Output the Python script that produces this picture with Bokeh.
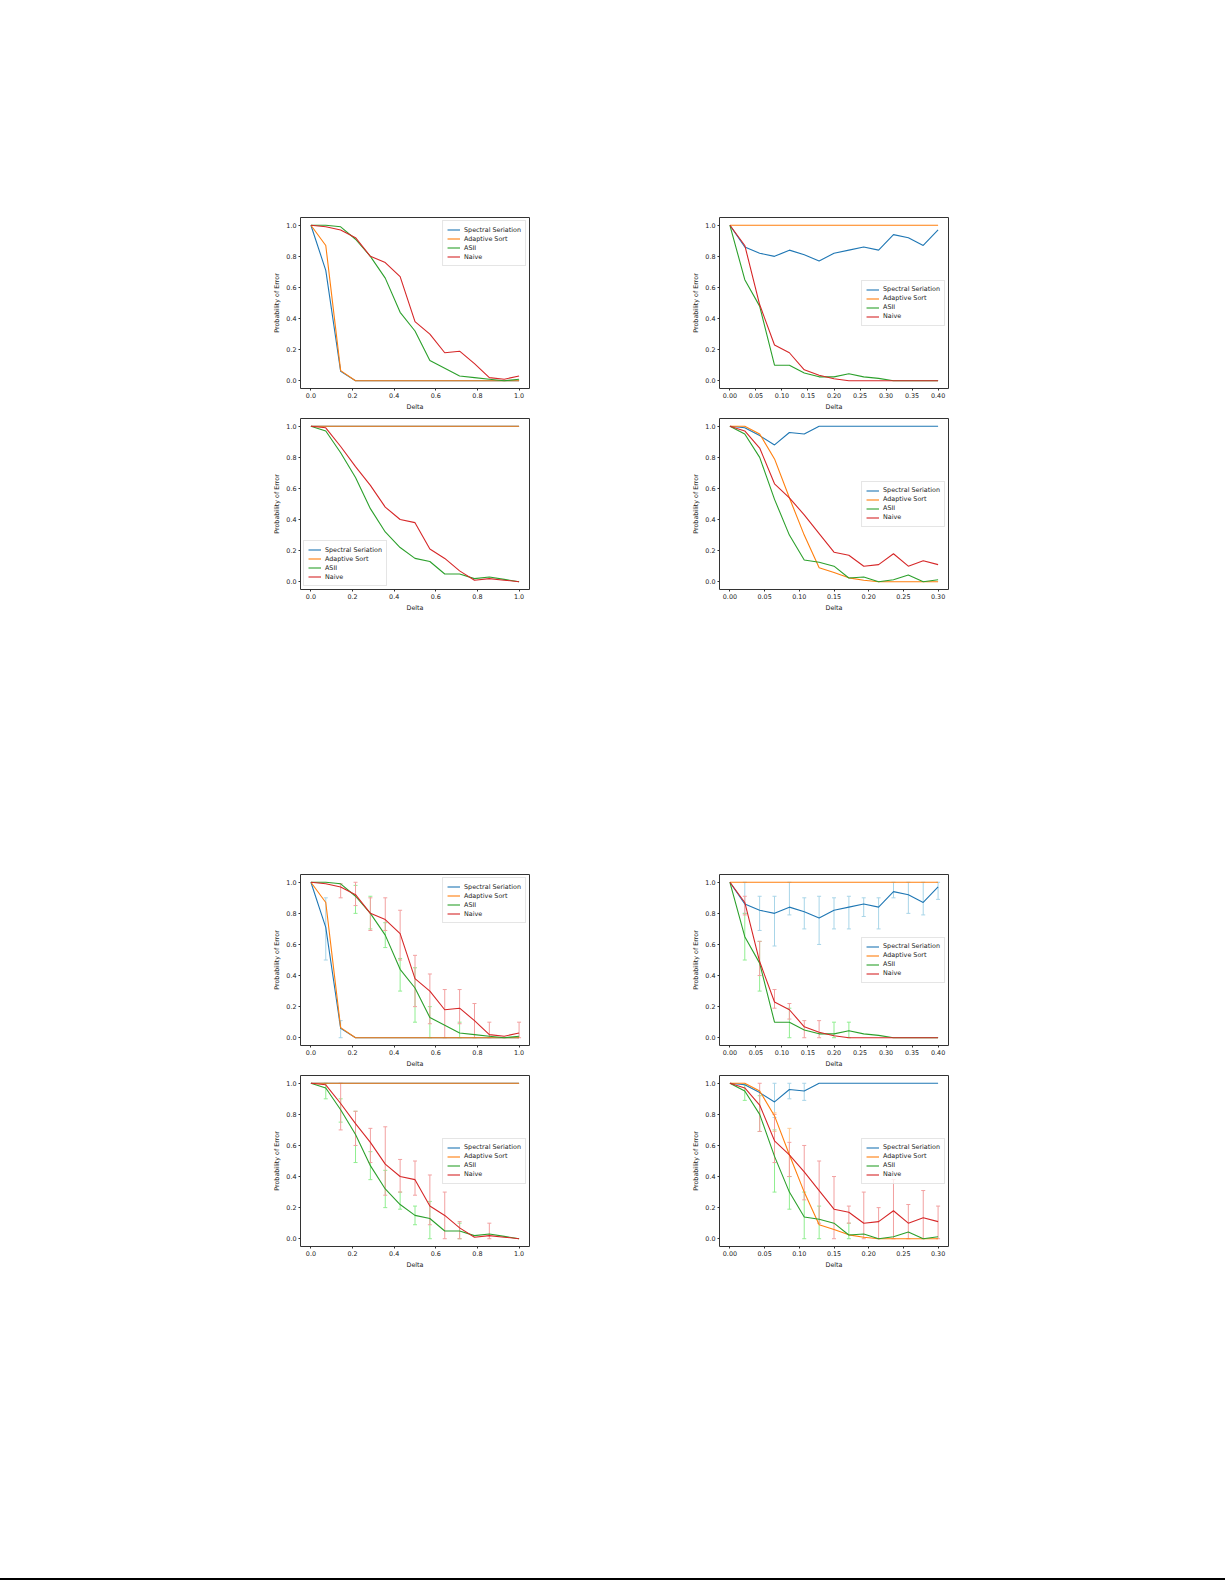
from bokeh.plotting import figure
from bokeh.models import (ColumnDataSource, Range1d, FixedTicker, PrintfTickFormatter,
                          Whisker, TeeHead, Spacer, Div)
from bokeh.layouts import column, row
from bokeh.embed import file_html
from bokeh.resources import INLINE

# x positions (Delta) of the 15 runs in each experiment
delta_a = [0.0, 0.0714, 0.1429, 0.2143, 0.2857, 0.3571, 0.4286, 0.5, 0.5714, 0.6429, 0.7143, 0.7857, 0.8571, 0.9286, 1.0]
delta_b = [0.0, 0.0286, 0.0571, 0.0857, 0.1143, 0.1429, 0.1714, 0.2, 0.2286, 0.2571, 0.2857, 0.3143, 0.3429, 0.3714, 0.4]
delta_d = [0.0, 0.0214, 0.0429, 0.0643, 0.0857, 0.1071, 0.1286, 0.15, 0.1714, 0.1929, 0.2143, 0.2357, 0.2571, 0.2786, 0.3]

names = ["Spectral Seriation", "Adaptive Sort", "ASII", "Naive"]

# experiment 1 (top left)
s1_spectral = [1.0, 0.71, 0.06, 0, 0, 0, 0, 0, 0, 0, 0, 0, 0, 0, 0]
s1_adaptive = [1.0, 0.87, 0.065, 0, 0, 0, 0, 0, 0, 0, 0, 0, 0, 0, 0]
s1_asii = [1.0, 1.0, 0.99, 0.91, 0.80, 0.66, 0.44, 0.32, 0.13, 0.08, 0.03, 0.02, 0.01, 0.0, 0.01]
s1_naive = [1.0, 0.99, 0.97, 0.92, 0.80, 0.76, 0.67, 0.38, 0.30, 0.18, 0.19, 0.11, 0.02, 0.01, 0.03]

# experiment 2 (top right)
s2_spectral = [1.0, 0.86, 0.82, 0.80, 0.84, 0.81, 0.77, 0.82, 0.84, 0.86, 0.84, 0.94, 0.92, 0.87, 0.97]
s2_adaptive = [1.0, 1.0, 1.0, 1.0, 1.0, 1.0, 1.0, 1.0, 1.0, 1.0, 1.0, 1.0, 1.0, 1.0, 1.0]
s2_asii = [1.0, 0.65, 0.48, 0.10, 0.10, 0.05, 0.025, 0.025, 0.045, 0.025, 0.015, 0.0, 0.0, 0.0, 0.0]
s2_naive = [1.0, 0.87, 0.49, 0.23, 0.18, 0.07, 0.035, 0.013, 0.0, 0.0, 0.0, 0.0, 0.0, 0.0, 0.0]

# experiment 3 (bottom left)
s3_spectral = [1.0, 1.0, 1.0, 1.0, 1.0, 1.0, 1.0, 1.0, 1.0, 1.0, 1.0, 1.0, 1.0, 1.0, 1.0]
s3_adaptive = [1.0, 1.0, 1.0, 1.0, 1.0, 1.0, 1.0, 1.0, 1.0, 1.0, 1.0, 1.0, 1.0, 1.0, 1.0]
s3_asii = [1.0, 0.97, 0.83, 0.67, 0.47, 0.32, 0.22, 0.15, 0.13, 0.05, 0.05, 0.02, 0.03, 0.015, 0.0]
s3_naive = [1.0, 0.99, 0.87, 0.74, 0.62, 0.48, 0.40, 0.38, 0.21, 0.15, 0.07, 0.01, 0.02, 0.01, 0.0]

# experiment 4 (bottom right)
s4_spectral = [1.0, 0.99, 0.94, 0.88, 0.96, 0.95, 1.0, 1.0, 1.0, 1.0, 1.0, 1.0, 1.0, 1.0, 1.0]
s4_adaptive = [1.0, 1.0, 0.95, 0.79, 0.54, 0.30, 0.09, 0.06, 0.025, 0.01, 0.0, 0.0, 0.0, 0.0, 0.0]
s4_asii = [1.0, 0.95, 0.80, 0.53, 0.30, 0.14, 0.125, 0.10, 0.024, 0.03, 0.0, 0.013, 0.043, 0.0, 0.013]
s4_naive = [1.0, 0.97, 0.86, 0.63, 0.54, 0.43, 0.31, 0.19, 0.17, 0.10, 0.11, 0.18, 0.10, 0.135, 0.11]

# error bars (lower, upper) for the second copy of the figure; None = no bar
e1_spectral = [None, (0.50, 0.90), (0.0, 0.11), None, None, None, None, None, None, None, None, None, None, None, None]
e1_asii = [None, None, None, (0.80, 0.98), (0.70, 0.91), (0.58, 0.74), (0.30, 0.51), (0.10, 0.45), (0.0, 0.20), None, (0.0, 0.10), None, None, None, None]
e1_naive = [None, None, (0.90, 0.99), (0.85, 1.0), (0.69, 0.90), (0.69, 0.90), (0.50, 0.82), (0.20, 0.53), (0.09, 0.41), (0.0, 0.31), (0.09, 0.31), (0.0, 0.22), (0.0, 0.10), None, (0.0, 0.10)]

e2_spectral = [None, (0.80, 1.0), (0.69, 0.91), (0.59, 0.91), (0.79, 1.0), (0.70, 0.90), (0.60, 0.91), (0.70, 0.90), (0.70, 0.91), (0.78, 0.90), (0.70, 0.90), (0.90, 1.0), (0.80, 1.0), (0.79, 1.0), (0.89, 1.0)]
e2_asii = [None, (0.50, 0.80), (0.30, 0.62), None, (0.0, 0.19), None, None, (0.0, 0.10), (0.0, 0.10), None, None, None, None, None, None]
e2_naive = [None, (0.79, 0.91), (0.40, 0.62), (0.19, 0.31), (0.12, 0.22), (0.0, 0.11), (0.0, 0.11), None, None, None, None, None, None, None, None]

e3_asii = [None, (0.90, 1.0), (0.75, 0.90), (0.49, 0.82), (0.38, 0.56), (0.20, 0.44), (0.19, 0.30), (0.09, 0.21), (0.0, 0.24), None, (0.0, 0.10), None, None, None, None]
e3_naive = [None, None, (0.70, 1.0), (0.60, 0.82), (0.49, 0.71), (0.28, 0.72), (0.30, 0.51), (0.28, 0.50), (0.09, 0.41), (0.0, 0.30), (0.0, 0.11), None, (0.0, 0.10), None, None]

e4_spectral = [None, None, None, (0.78, 1.0), (0.90, 1.0), (0.89, 1.0), None, None, None, None, None, None, None, None, None]
e4_adaptive = [None, None, None, (0.69, 0.81), (0.40, 0.71), None, None, None, None, None, None, None, None, None, None]
e4_asii = [None, (0.89, 0.99), (0.69, 0.92), (0.30, 0.70), (0.19, 0.40), (0.0, 0.30), (0.0, 0.21), None, (0.0, 0.10), None, None, None, None, None, None]
e4_naive = [None, None, (0.69, 1.0), (0.49, 0.80), (0.40, 0.62), (0.25, 0.60), (0.10, 0.50), (0.0, 0.40), (0.10, 0.21), (0.0, 0.30), (0.0, 0.20), (0.0, 0.38), (0.0, 0.22), (0.0, 0.31), (0.0, 0.21)]

ticks_a = [0.0, 0.2, 0.4, 0.6, 0.8, 1.0]
ticks_b = [0.0, 0.05, 0.10, 0.15, 0.20, 0.25, 0.30, 0.35, 0.40]
ticks_d = [0.0, 0.05, 0.10, 0.15, 0.20, 0.25, 0.30]
ticks_y = [0.0, 0.2, 0.4, 0.6, 0.8, 1.0]

FONT = "DejaVu Sans"
FS = "6.4px"
TEXT = "#1a1a1a"
colors = ["#1f77b4", "#ff7f0e", "#2ca02c", "#d62728"]
err_colors = ["#a8d5e8", "#ffcc99", "#90ee90", "#f2a0a0"]


def make_panel(delta, series, errors, x_end, xticks, xfmt, legend_loc):
    p = figure(frame_width=229, frame_height=171,
               min_border_left=60, min_border_right=10,
               min_border_top=4, min_border_bottom=26,
               x_range=Range1d(-0.05 * x_end, 1.05 * x_end),
               y_range=Range1d(-0.05, 1.05),
               toolbar_location=None, tools="", output_backend="svg")
    p.xgrid.visible = False
    p.ygrid.visible = False
    p.outline_line_color = "#333333"
    p.outline_line_width = 1

    for name, color, ecolor, vals, errs in zip(names, colors, err_colors, series, errors):
        if errs is not None:
            xs = [d for d, e in zip(delta, errs) if e is not None]
            lo = [e[0] for e in errs if e is not None]
            hi = [e[1] for e in errs if e is not None]
            src = ColumnDataSource(data=dict(x=xs, lo=lo, hi=hi))
            w = Whisker(source=src, base="x", lower="lo", upper="hi", dimension="height",
                        line_color=ecolor, line_width=1,
                        upper_head=TeeHead(size=4, line_color=ecolor, line_width=1),
                        lower_head=TeeHead(size=4, line_color=ecolor, line_width=1))
            p.add_layout(w)
        p.line(delta, vals, line_color=color, line_width=1.1, legend_label=name)

    p.xaxis.ticker = FixedTicker(ticks=xticks)
    p.xaxis.formatter = PrintfTickFormatter(format=xfmt)
    p.yaxis.ticker = FixedTicker(ticks=ticks_y)
    p.yaxis.formatter = PrintfTickFormatter(format="%.1f")
    p.xaxis.axis_label = "Delta"
    p.yaxis.axis_label = "Probability of Error"
    for ax in (p.xaxis[0], p.yaxis[0]):
        ax.axis_line_color = None
        ax.major_tick_out = 2
        ax.major_tick_in = 0
        ax.minor_tick_out = 0
        ax.minor_tick_in = 0
        ax.major_tick_line_color = "#333333"
        ax.major_label_text_font = FONT
        ax.major_label_text_font_size = FS
        ax.major_label_text_color = TEXT
        ax.axis_label_text_font = FONT
        ax.axis_label_text_font_size = FS
        ax.axis_label_text_font_style = "normal"
        ax.axis_label_text_color = TEXT
        ax.major_label_standoff = 2
        ax.axis_label_standoff = 2

    lg = p.legend[0]
    lg.location = legend_loc
    lg.label_text_font = FONT
    lg.label_text_font_size = FS
    lg.label_text_color = TEXT
    lg.border_line_color = "#cccccc"
    lg.border_line_width = 1
    lg.background_fill_alpha = 0.8
    lg.padding = 4
    lg.spacing = 0
    lg.margin = 3
    lg.glyph_width = 13
    lg.glyph_height = 9
    lg.label_height = 9
    lg.label_standoff = 4
    return p


none4 = [None, None, None, None]

f1 = make_panel(delta_a, [s1_spectral, s1_adaptive, s1_asii, s1_naive], none4, 1.0, ticks_a, "%.1f", "top_right")
f2 = make_panel(delta_b, [s2_spectral, s2_adaptive, s2_asii, s2_naive], none4, 0.4, ticks_b, "%.2f", "center_right")
f3 = make_panel(delta_a, [s3_spectral, s3_adaptive, s3_asii, s3_naive], none4, 1.0, ticks_a, "%.1f", "bottom_left")
f4 = make_panel(delta_d, [s4_spectral, s4_adaptive, s4_asii, s4_naive], none4, 0.3, ticks_d, "%.2f", "center_right")

f5 = make_panel(delta_a, [s1_spectral, s1_adaptive, s1_asii, s1_naive],
                [e1_spectral, None, e1_asii, e1_naive], 1.0, ticks_a, "%.1f", "top_right")
f6 = make_panel(delta_b, [s2_spectral, s2_adaptive, s2_asii, s2_naive],
                [e2_spectral, None, e2_asii, e2_naive], 0.4, ticks_b, "%.2f", "center_right")
f7 = make_panel(delta_a, [s3_spectral, s3_adaptive, s3_asii, s3_naive],
                [None, None, e3_asii, e3_naive], 1.0, ticks_a, "%.1f", "center_right")
f8 = make_panel(delta_d, [s4_spectral, s4_adaptive, s4_asii, s4_naive],
                [e4_spectral, e4_adaptive, e4_asii, e4_naive], 0.3, ticks_d, "%.2f", "center_right")

page_rule = Div(text="", width=1225, height=2, margin=0,
                styles={"background-color": "#000000"})

root = column(
    Spacer(height=213),
    row(Spacer(width=240), f1, Spacer(width=120), f2),
    row(Spacer(width=240), f3, Spacer(width=120), f4),
    Spacer(height=255),
    row(Spacer(width=240), f5, Spacer(width=120), f6),
    row(Spacer(width=240), f7, Spacer(width=120), f8),
    Spacer(height=306),
    page_rule,
)

open("out.html", "w").write(file_html(root, INLINE))
